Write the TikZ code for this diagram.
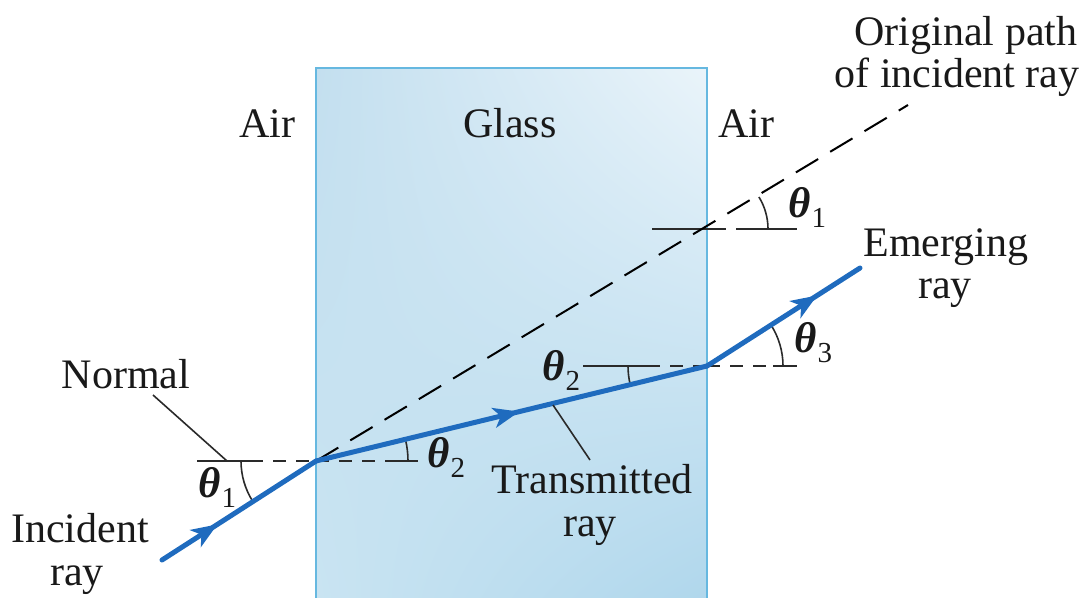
\documentclass[tikz,border=0pt]{standalone}
\usepackage{fontspec}
\setmainfont{Liberation Serif}
\usetikzlibrary{decorations.markings,arrows.meta,angles,shadings}
\definecolor{raycol}{HTML}{1F6BBE}
\definecolor{glassedge}{HTML}{66B8E0}
\definecolor{gUL}{HTML}{C3DFEF}
\definecolor{gUR}{HTML}{EAF4FA}
\definecolor{gLL}{HTML}{C9E4F2}
\definecolor{gLR}{HTML}{B0D7EC}
\definecolor{linecol}{HTML}{2A2A2A}
\newcommand\thsub[1]{{\bfseries\itshape θ}\kern1pt\raisebox{-10pt}{\fontsize{29}{30}\selectfont #1}}
\tikzset{
  lbl/.style={font=\fontsize{42}{44}\selectfont, inner sep=0pt, anchor=base, text=black!90},
  thl/.style={font=\fontsize{43}{44}\selectfont, inner sep=0pt, anchor=base west, text=black!90},
  raypath/.style={raycol, line width=5pt, line cap=round},
  midarrow/.style={postaction={decorate}, decoration={markings, mark=at position #1 with {\arrow[raycol]{Stealth[length=26pt,width=20pt,inset=7pt]}}}},
  nsolid/.style={linecol, line width=1.6pt},
  ndash/.style={linecol, line width=1.6pt, dash pattern=on 13pt off 10pt},
  origdash/.style={black, line width=2pt, dash pattern=on 26pt off 14pt},
  anglearc/.style={draw=linecol, line width=1.6pt},
}
\begin{document}
\begin{tikzpicture}[x=1pt,y=-1pt]
\useasboundingbox (0,0) rectangle (1086,597);
% glass
\shade[upper left=gUL, upper right=gUR, lower left=gLL, lower right=gLR] (316,68) rectangle (707,597);
\draw[glassedge, line width=2.5pt] (316,600) -- (316,68) -- (707,68) -- (707,600);

% points
\coordinate (A) at (316,461);
\coordinate (B) at (707,366);
\coordinate (C) at (707,229);
\coordinate (S) at (162,560);
\coordinate (E) at (860,268);
\coordinate (O) at (908,105);

\coordinate (AL) at (197,461);
\coordinate (AL2) at (250,461);
\coordinate (AR2) at (393,461);
\coordinate (AR) at (418,461);
\coordinate (BL) at (583,366);
\coordinate (BL2) at (647,366);
\coordinate (BR2) at (773,366);
\coordinate (BR) at (797,366);
\coordinate (CL) at (652,229);
\coordinate (CL2) at (713,229);
\coordinate (CR2) at (747,229);
\coordinate (CR) at (797,229);

% normals
\draw[nsolid] (AL) -- (AL2);
\draw[ndash] (AL2) -- (A);
\draw[ndash] (A) -- (AR2);
\draw[nsolid] (AR2) -- (AR);

\draw[nsolid] (BL) -- (BL2);
\draw[ndash] (BL2) -- (B);
\draw[ndash] (B) -- (BR2);
\draw[nsolid] (BR2) -- (BR);

\draw[nsolid] (CL) -- (CL2);
\draw[ndash] (CL2) -- (CR2);
\draw[nsolid] (CR2) -- (CR);

% original path
\draw[origdash] (A) -- (O);

% angle arcs
\pic[anglearc, angle radius=75pt] {angle = AL--A--S};
\pic[anglearc, angle radius=92pt] {angle = AR--A--B};
\pic[anglearc, angle radius=79pt] {angle = BL--B--A};
\pic[anglearc, angle radius=76pt] {angle = BR--B--E};
\pic[anglearc, angle radius=61pt] {angle = CR--C--O};

% rays
\draw[raypath, midarrow=0.36] (S) -- (A);
\draw[raypath, midarrow=0.52] (A) -- (B);
\draw[raypath, midarrow=0.72] (B) -- (E);

% labels
\node[lbl] (orig1) at (966,45) {Original path};
\node[lbl] (orig2) at (957,87) {of incident ray};
\node[lbl] (airL) at (267,137) {Air};
\node[lbl] (glass) at (510,137) {Glass};
\node[lbl] (airR) at (746,137) {Air};
\node[lbl] (emer1) at (946,256) {Emerging};
\node[lbl] (emer2) at (945,298) {ray};
\node[lbl] (normal) at (126,388) {Normal};
\node[lbl] (trans1) at (592,493) {Transmitted};
\node[lbl] (trans2) at (590,536) {ray};
\node[lbl] (inc1) at (80,542) {Incident};
\node[lbl] (inc2) at (77,585) {ray};

% leaders
\coordinate (nlead) at (153,395);
\coordinate (nfoot) at (227,461);
\draw[nsolid] (nlead) -- (nfoot);
\coordinate (tlead) at (553,405);
\coordinate (tfoot) at (590,460);
\draw[nsolid] (tlead) -- (tfoot);

% theta labels
\node[thl] (t1a) at (198,497) {\thsub{1}};
\node[thl] (t2a) at (427,467) {\thsub{2}};
\node[thl] (t2b) at (542,380) {\thsub{2}};
\node[thl] (t3b) at (794,352) {\thsub{3}};
\node[thl] (t1c) at (788,217) {\thsub{1}};
\end{tikzpicture}
\end{document}
